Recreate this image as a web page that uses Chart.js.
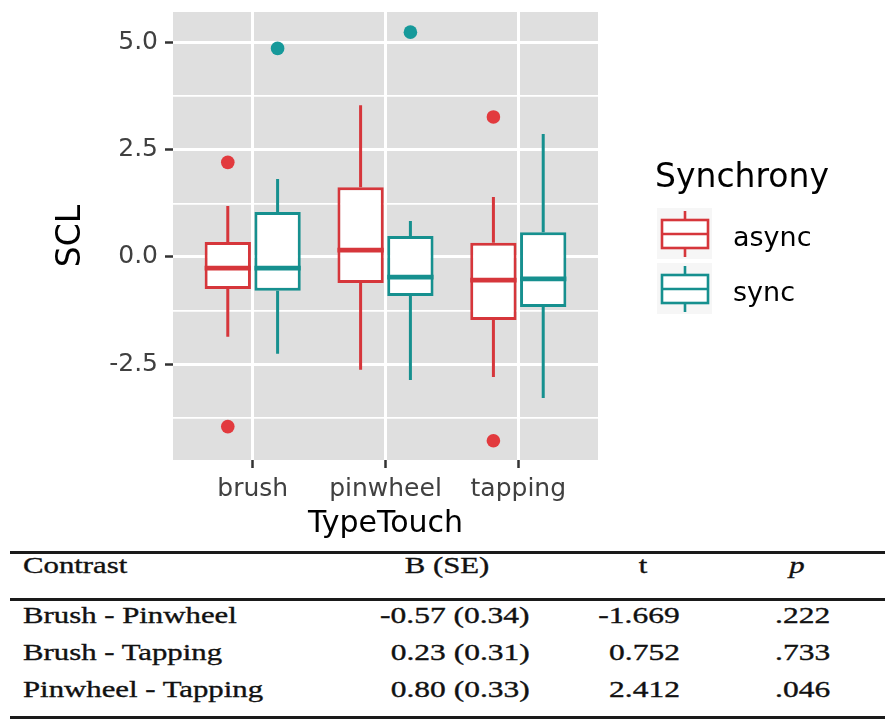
<!DOCTYPE html>
<html><head><meta charset="utf-8">
<script src="https://cdn.jsdelivr.net/npm/chart.js@4.4.0/dist/chart.umd.min.js"></script>
<style>
html,body{margin:0;padding:0;background:#fff;}
body{width:885px;height:723px;overflow:hidden;position:relative;font-family:"Liberation Serif","Times New Roman",serif;}
#wrap{position:absolute;left:0;top:0;width:885px;height:545px;}
.rule{position:absolute;left:10px;width:875px;height:3px;background:#1a1a1a;}
.cell{position:absolute;font-size:23.5px;line-height:23px;height:23px;color:#111;white-space:nowrap;-webkit-text-stroke:0.35px #111;}
.l{transform:scaleX(1.31);transform-origin:left center;}
.r{transform:scaleX(1.34);transform-origin:right center;}
.c{transform:translateX(-50%) scaleX(1.31);}
</style></head><body>
<div id="wrap"><canvas id="c" width="885" height="545"></canvas></div>
<div id="table"></div>
<script>
// ---- data ----
const categories = ['brush', 'pinwheel', 'tapping'];
const groups = ['async', 'sync'];
const asyncWhiskerLow  = [-1.86, -2.63, -2.80];
const asyncQ1          = [-0.75, -0.61, -1.47];
const asyncMedian      = [-0.26,  0.16, -0.54];
const asyncQ3          = [ 0.35,  1.63,  0.33];
const asyncWhiskerHigh = [ 1.19,  3.54,  1.40];
const asyncOutliers    = [[2.21, -3.96], [], [3.27, -4.29]];
const syncWhiskerLow   = [-2.26, -2.87, -3.29];
const syncQ1           = [-0.79, -0.91, -1.17];
const syncMedian       = [-0.26, -0.47, -0.51];
const syncQ3           = [ 1.05,  0.49,  0.58];
const syncWhiskerHigh  = [ 1.82,  0.84,  2.87];
const syncOutliers     = [[4.87], [5.25], []];
const yMajorTicks = [-2.5, 0, 2.5, 5.0];
const yMinorTicks = [-3.75, -1.25, 1.25, 3.75];

const contrasts = ['Brush - Pinwheel', 'Brush - Tapping', 'Pinwheel - Tapping'];
const estimates = ['-0.57 (0.34)', '0.23 (0.31)', '0.80 (0.33)'];
const tValues   = ['-1.669', '0.752', '2.412'];
const pValues   = ['.222', '.733', '.046'];

// ---- styling ----
const RED = '#D6363B', TEAL = '#16908F';
const RED_PT = '#E23A3E', TEAL_PT = '#16999A';
const DODGE = 0.1875;
const SANS = '"DejaVu Sans", sans-serif';

const summaries = [
  {name: groups[0], color: RED, pt: RED_PT, off: -DODGE, lo: asyncWhiskerLow, q1: asyncQ1, med: asyncMedian, q3: asyncQ3, hi: asyncWhiskerHigh, out: asyncOutliers},
  {name: groups[1], color: TEAL, pt: TEAL_PT, off: DODGE, lo: syncWhiskerLow, q1: syncQ1, med: syncMedian, q3: syncQ3, hi: syncWhiskerHigh, out: syncOutliers}
];

const boxDatasets = summaries.map(s => ({
  type: 'bar',
  label: s.name,
  data: categories.map((c, i) => ({x: i + s.off, y: [s.q1[i], s.q3[i]]})),
  backgroundColor: '#ffffff',
  borderColor: s.color,
  borderWidth: 3,
  borderSkipped: false,
  grouped: false,
  categoryPercentage: 1,
  barPercentage: 0.93,
  order: 2
}));
const outlierDatasets = summaries.map(s => ({
  type: 'scatter',
  label: s.name + ' outliers',
  data: s.out.flatMap((arr, i) => arr.map(v => ({x: i + s.off, y: v}))),
  backgroundColor: s.pt,
  borderColor: s.pt,
  borderWidth: 0,
  pointRadius: 6.8,
  order: 1
}));

const panelBg = {
  id: 'panelBg',
  beforeDraw(chart) {
    const {ctx, chartArea: a} = chart;
    ctx.save();
    ctx.fillStyle = '#DFDFDF';
    ctx.fillRect(a.left, a.top, a.right - a.left, a.bottom - a.top);
    ctx.restore();
  }
};

const whiskers = {
  id: 'whiskers',
  afterDatasetsDraw(chart) {
    const {ctx} = chart;
    const y = chart.scales.y;
    summaries.forEach((s, di) => {
      const meta = chart.getDatasetMeta(di);
      meta.data.forEach((bar, i) => {
        const cx = bar.x;
        const half = bar.width / 2;
        ctx.save();
        ctx.strokeStyle = s.color;
        ctx.lineWidth = 3;
        ctx.beginPath();
        ctx.moveTo(cx, y.getPixelForValue(s.q3[i]));
        ctx.lineTo(cx, y.getPixelForValue(s.hi[i]));
        ctx.moveTo(cx, y.getPixelForValue(s.q1[i]));
        ctx.lineTo(cx, y.getPixelForValue(s.lo[i]));
        ctx.stroke();
        ctx.lineWidth = 4.6;
        ctx.beginPath();
        const my = y.getPixelForValue(s.med[i]);
        ctx.moveTo(cx - half, my);
        ctx.lineTo(cx + half, my);
        ctx.stroke();
        ctx.restore();
      });
    });
  }
};

const legendPlugin = {
  id: 'ggLegend',
  afterDraw(chart) {
    const {ctx} = chart;
    ctx.save();
    ctx.fillStyle = '#000';
    ctx.font = '33px ' + SANS;
    ctx.textBaseline = 'alphabetic';
    ctx.textAlign = 'left';
    ctx.fillText('Synchrony', 655, 187);
    summaries.forEach((s, k) => {
      const top = 208 + k * 55;
      ctx.fillStyle = '#F6F6F6';
      ctx.fillRect(657, top, 55, 51);
      ctx.strokeStyle = s.color;
      ctx.lineWidth = 2.6;
      ctx.fillStyle = '#fff';
      ctx.fillRect(662, top + 12, 46, 28);
      ctx.strokeRect(662, top + 12, 46, 28);
      ctx.beginPath();
      ctx.moveTo(685, top + 3); ctx.lineTo(685, top + 12);
      ctx.moveTo(685, top + 40); ctx.lineTo(685, top + 49);
      ctx.moveTo(662, top + 26); ctx.lineTo(708, top + 26);
      ctx.stroke();
      ctx.fillStyle = '#000';
      ctx.font = '27px ' + SANS;
      ctx.fillText(s.name, 733, top + 38);
    });
    ctx.restore();
  }
};

const isMajor = v => yMajorTicks.some(m => Math.abs(m - v) < 1e-9);

new Chart(document.getElementById('c'), {
  type: 'bar',
  data: {datasets: [...boxDatasets, ...outlierDatasets]},
  options: {
    responsive: false,
    animation: false,
    events: [],
    layout: {padding: {left: 0, right: 287, top: 12, bottom: 0}},
    plugins: {legend: {display: false}, tooltip: {enabled: false}},
    scales: {
      x: {
        type: 'linear', min: -0.6, max: 2.6, offset: false, bounds: 'data',
        afterBuildTicks: s => { s.ticks = categories.map((c, i) => ({value: i})); },
        afterFit: s => { s.height = 85; s.paddingLeft = 0; s.paddingRight = 0; },
        ticks: {
          callback: v => categories[v],
          color: '#404040', font: {family: SANS, size: 25}, padding: 6, maxRotation: 0, autoSkip: false
        },
        grid: {color: '#ffffff', lineWidth: 3, offset: false, drawTicks: true, tickLength: 8, tickWidth: 2.5, tickColor: '#333333'},
        border: {display: false},
        title: {display: true, text: 'TypeTouch', color: '#000', font: {family: SANS, size: 30}, padding: {top: 0, bottom: 3}}
      },
      y: {
        type: 'linear', min: -4.74, max: 5.72, bounds: 'data', beginAtZero: false,
        afterBuildTicks: s => { s.ticks = [...yMinorTicks, ...yMajorTicks].sort((a, b) => a - b).map(v => ({value: v})); },
        afterFit: s => { s.width = 173; s.paddingTop = 0; s.paddingBottom = 0; },
        ticks: {
          callback: v => isMajor(v) ? v.toFixed(1) : '',
          color: '#404040', font: {family: SANS, size: 25}, padding: 7, autoSkip: false
        },
        grid: {
          color: '#ffffff',
          lineWidth: c => (c.tick && isMajor(c.tick.value)) ? 3 : 1.8,
          drawTicks: true, tickLength: 8, tickWidth: 2.5,
          tickColor: c => (c.tick && isMajor(c.tick.value)) ? '#333333' : 'rgba(0,0,0,0)'
        },
        border: {display: false},
        title: {display: true, text: 'SCL', color: '#000', font: {family: SANS, size: 33}, padding: {top: 52, bottom: 0}}
      }
    }
  },
  plugins: [panelBg, whiskers, legendPlugin]
});

// ---- table below the chart ----
const tbl = document.getElementById('table');
function rule(top) { const d = document.createElement('div'); d.className = 'rule'; d.style.top = top + 'px'; tbl.appendChild(d); }
function cell(text, cls, top, pos, italic) {
  const d = document.createElement('div');
  d.className = 'cell ' + cls;
  d.textContent = text;
  d.style.top = top + 'px';
  if (cls === 'r') d.style.right = (885 - pos) + 'px'; else d.style.left = pos + 'px';
  if (italic) d.style.fontStyle = 'italic';
  tbl.appendChild(d);
}
rule(551); rule(598); rule(716);
const baseOff = 19;
cell('Contrast', 'l', 573 - baseOff, 23);
cell('B (SE)', 'c', 573 - baseOff, 447);
cell('t', 'c', 573 - baseOff, 643);
cell('p', 'c', 573 - baseOff, 797, true);
const rowBase = [623, 660, 697];
contrasts.forEach((c, i) => {
  const t = rowBase[i] - baseOff;
  cell(c, 'l', t, 23);
  cell(estimates[i], 'r', t, 530);
  cell(tValues[i], 'r', t, 680);
  cell(pValues[i], 'r', t, 830);
});
</script>
</body></html>
